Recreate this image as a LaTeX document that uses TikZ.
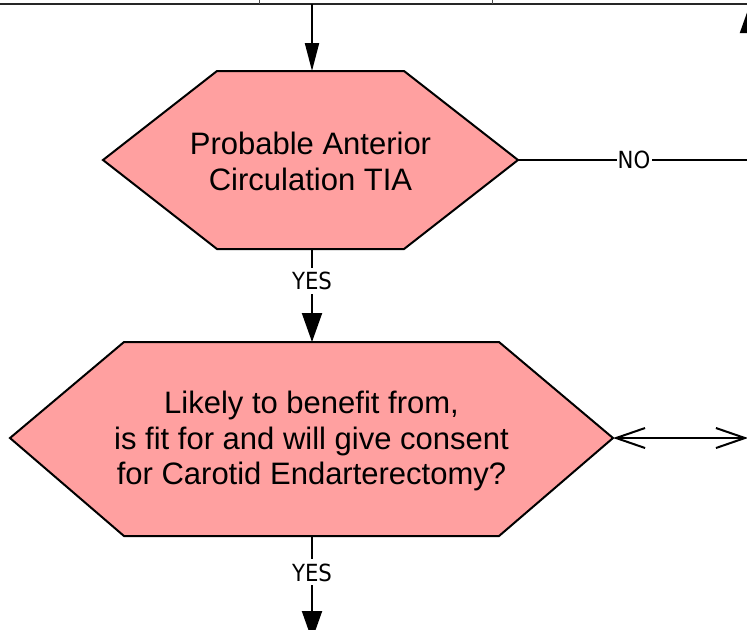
\documentclass[tikz,border=0pt]{standalone}
\usepackage{fontspec}
\setmainfont{Liberation Sans}
\newfontfamily\lblfont[FakeStretch=0.9]{DejaVu Sans}
\usetikzlibrary{arrows.meta}
\definecolor{hexpink}{RGB}{255,160,160}

\begin{document}
\begin{tikzpicture}[x=0.5pt,y=-0.5pt,
	hexa/.style={fill=hexpink,draw=black,line width=1pt,line join=miter},
	qtext/.style={align=center,inner sep=0pt,font=\fontsize{15.5}{17.75}\selectfont},
	lbl/.style={fill=white,inner xsep=0.6pt,inner ysep=2pt,font=\lblfont\fontsize{11.8}{13}\selectfont},
	conn/.style={line width=1pt},
	arr/.style={conn,-{Triangle[length=14.5pt,width=10pt]}},
	thinarr/.style={conn,-{Triangle[length=14pt,width=7pt]}},
	barbs/.style={conn,{Straight Barb[length=14.5pt,width=10pt]}-{Straight Barb[length=14.5pt,width=10pt]}}]
	\useasboundingbox (0,0) rectangle (747,629);
	\clip (0,0) rectangle (747,629);
	% bottom of the boxes above
	\coordinate (topL) at (0,4);
	\coordinate (topR) at (747,4);
	\draw[line width=1.2pt,black!85] (topL) -- (topR);
	\draw[line width=0.5pt,black!70] (259,0) -- (259,4);
	\draw[line width=0.5pt,black!70] (492,0) -- (492,4);
	\coordinate (topA) at (312,4);
	% first question
	\filldraw[hexa] (103,160) coordinate (tiaW) -- (217,71) -- (404,71) -- (518,160) coordinate (tiaE) -- (404,249) -- (217,249) -- cycle;
	\node[qtext] (tia) at (310.5,161.5) {Probable Anterior\\Circulation TIA};
	\coordinate (tiaN) at (312,71);
	\coordinate (tiaS) at (312,249);
	% second question
	\filldraw[hexa] (10,438) coordinate (ceaW) -- (124,342) -- (499,342) -- (613,438) coordinate (ceaE) -- (499,536) -- (124,536) -- cycle;
	\node[qtext] (cea) at (311.5,441) {Likely to benefit from,\\is fit for and will give consent\\for Carotid Endarterectomy?};
	\coordinate (ceaN) at (312,342);
	\coordinate (ceaS) at (312,536);
	% ends leaving the picture
	\coordinate (noBend) at (750,160);
	\coordinate (noUp) at (750,4);
	\coordinate (ceaR) at (748,438);
	\coordinate (downA) at (312,640);
	% connectors
	\draw[thinarr] (topA) -- (tiaN);
	\draw[arr] (tiaS) -- node[lbl,pos=0.34] {YES} (ceaN);
	\draw[arr] (tiaE) -- node[lbl] {NO} (noBend) -- (noUp);
	\draw[barbs] (ceaE) -- (ceaR);
	\draw[arr] (ceaS) -- node[lbl,pos=0.35] {YES} (downA);
\end{tikzpicture}
\end{document}
